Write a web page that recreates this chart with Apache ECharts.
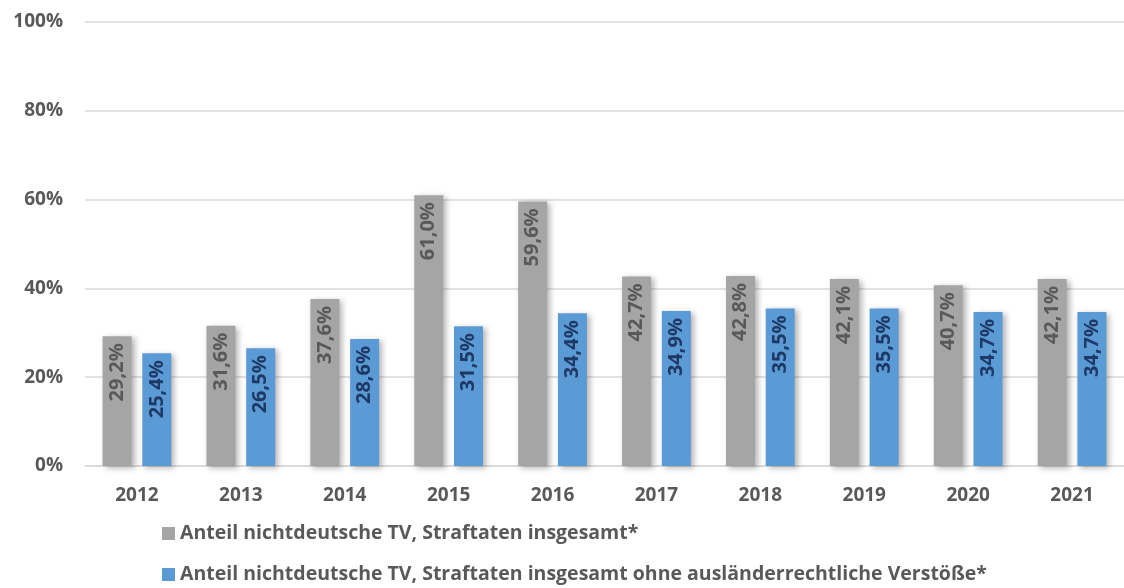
<!DOCTYPE html>
<html>
<head>
<meta charset="utf-8">
<script src="https://cdn.jsdelivr.net/npm/echarts@6/dist/echarts.min.js"></script>
<style>
  html, body { margin: 0; padding: 0; background: #fff; }
  #chart { width: 1124px; height: 588px; }
</style>
</head>
<body>
<div id="chart"></div>
<script>
// Daten
var years = ['2012', '2013', '2014', '2015', '2016', '2017', '2018', '2019', '2020', '2021'];
var anteilGesamt = [29.2, 31.6, 37.6, 61.0, 59.6, 42.7, 42.8, 42.1, 40.7, 42.1];
var anteilOhneAuslR = [25.4, 26.5, 28.6, 31.5, 34.4, 34.9, 35.5, 35.5, 34.7, 34.7];
var yTicks = [0, 20, 40, 60, 80, 100];

var nameGesamt = 'Anteil nichtdeutsche TV, Straftaten insgesamt*';
var nameOhne = 'Anteil nichtdeutsche TV, Straftaten insgesamt ohne ausländerrechtliche Verstöße*';

var font = '"Open Sans", sans-serif';

function pct(v) {
  return v.toFixed(1).replace('.', ',') + '%';
}

var chart = echarts.init(document.getElementById('chart'));

var option = {
  animation: false,
  textStyle: { fontFamily: font },
  grid: {
    left: 85,
    top: 22,
    width: 1044,
    bottom: 122
  },
  legend: {
    orient: 'vertical',
    left: 162,
    top: 520,
    height: 100,
    width: 900,
    padding: 0,
    itemGap: 14,
    itemWidth: 13,
    itemHeight: 13,
    itemTextGap: 6,
    icon: 'rect',
    textStyle: {
      fontFamily: font,
      fontWeight: 'bold',
      fontSize: 19.5,
      lineHeight: 27,
      color: '#595959'
    },
    data: [nameGesamt, nameOhne]
  },
  xAxis: {
    type: 'category',
    data: years,
    axisLine: { lineStyle: { color: '#d9d9d9', width: 1.5 } },
    axisTick: { show: false },
    axisLabel: {
      margin: 20,
      fontFamily: font,
      fontWeight: 'bold',
      fontSize: 19,
      color: '#595959'
    }
  },
  yAxis: {
    type: 'value',
    min: yTicks[0],
    max: yTicks[yTicks.length - 1],
    interval: 20,
    axisLine: { show: false },
    axisTick: { show: false },
    splitLine: { lineStyle: { color: '#d9d9d9', width: 1.5 } },
    axisLabel: {
      margin: 22,
      fontFamily: font,
      fontWeight: 'bold',
      fontSize: 19,
      color: '#595959',
      formatter: function (v) { return v + '%'; }
    }
  },
  series: [
    {
      name: nameGesamt,
      type: 'bar',
      data: anteilGesamt,
      barWidth: 29,
      barGap: '37%',
      itemStyle: {
        color: '#a5a5a5',
        shadowColor: 'rgba(0,0,0,0.3)',
        shadowBlur: 6,
        shadowOffsetX: 3,
        shadowOffsetY: 2
      },
      label: {
        show: true,
        position: 'insideTop',
        rotate: 90,
        align: 'right',
        verticalAlign: 'middle',
        distance: 7,
        fontFamily: font,
        fontWeight: 'bold',
        fontSize: 20,
        color: '#595959',
        formatter: function (p) { return pct(p.value); }
      }
    },
    {
      name: nameOhne,
      type: 'bar',
      data: anteilOhneAuslR,
      barWidth: 29,
      itemStyle: {
        color: '#5b9bd5',
        shadowColor: 'rgba(0,0,0,0.3)',
        shadowBlur: 6,
        shadowOffsetX: 3,
        shadowOffsetY: 2
      },
      label: {
        show: true,
        position: 'insideTop',
        rotate: 90,
        align: 'right',
        verticalAlign: 'middle',
        distance: 7,
        fontFamily: font,
        fontWeight: 'bold',
        fontSize: 20,
        color: '#1f3864',
        formatter: function (p) { return pct(p.value); }
      }
    }
  ]
};

chart.setOption(option);
</script>
</body>
</html>
